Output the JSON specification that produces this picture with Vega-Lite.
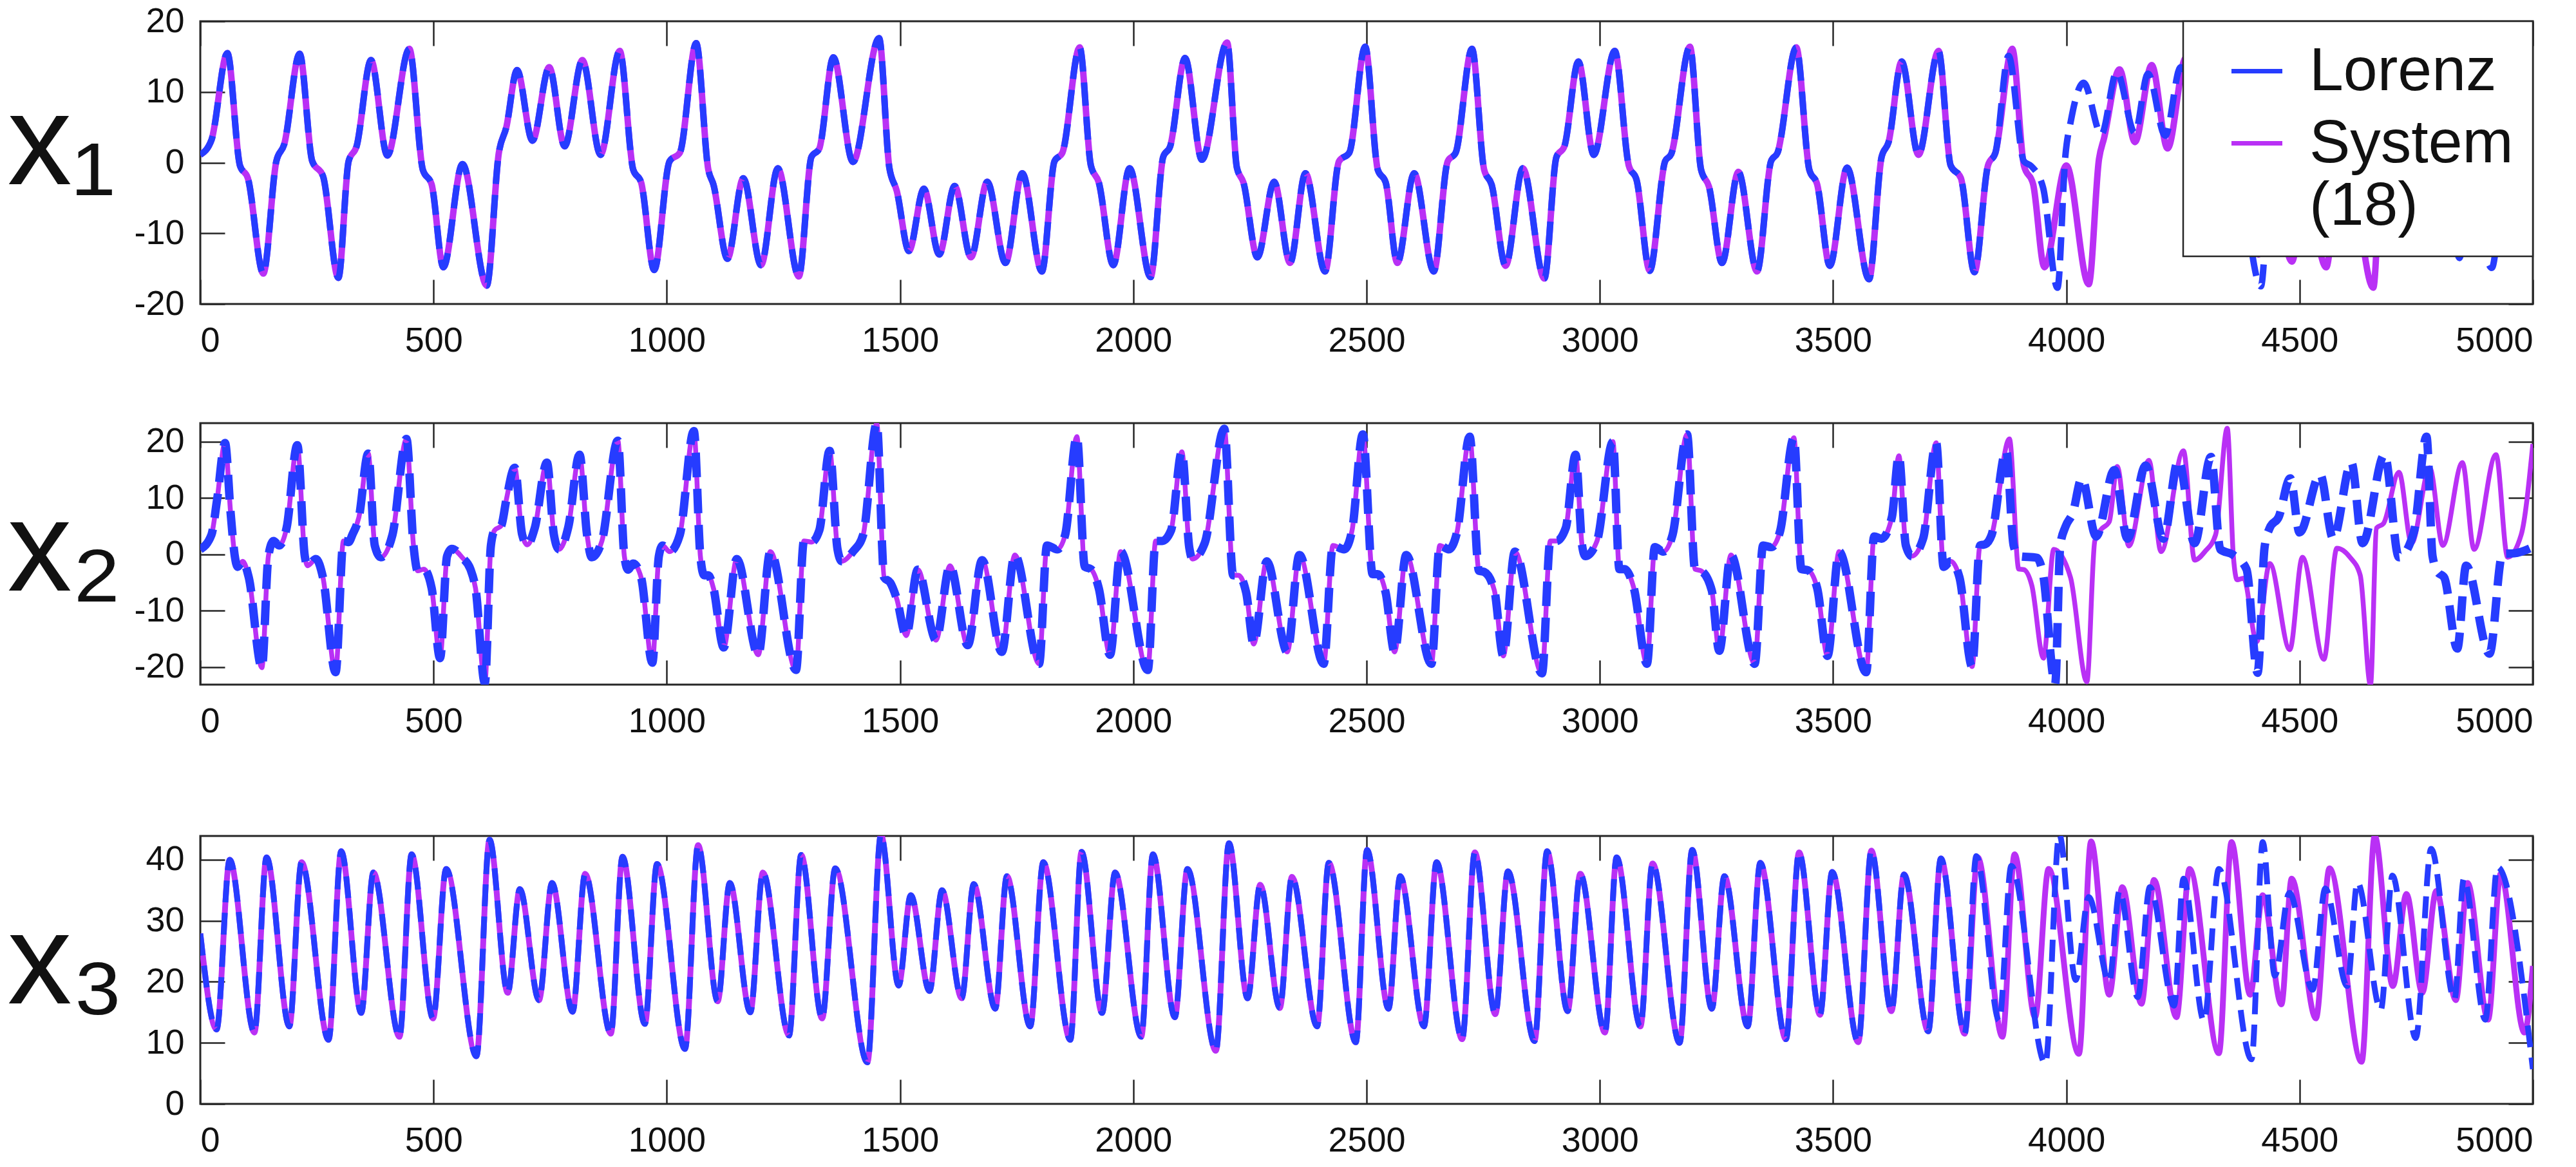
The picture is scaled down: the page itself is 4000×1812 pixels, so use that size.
{
  "$schema": "https://vega.github.io/schema/vega-lite/v6.json",
  "background": "white",
  "padding": {"left": 9, "top": 4, "right": 0, "bottom": 0},
  "config": {
    "view": {"stroke": "#262626", "strokeWidth": 3},
    "axis": {
      "domain": false, "grid": false,
      "tickColor": "#262626", "tickWidth": 2.5, "tickSize": -38,
      "labelFont": "Liberation Sans", "labelFontSize": 54, "labelColor": "#111111",
      "titleFont": "Liberation Sans", "titleColor": "#111111", "titleFontWeight": "normal"
    },
    "legend": {"strokeWidth": 2.5}
  },
  "datasets": {
    "d1": [
      {"t":0,"v":1.1,"g":"B"},{"t":24,"v":3.2,"g":"B"},{"t":58,"v":15.5,"g":"B"},{"t":85,"v":-0.4,"g":"B"},{"t":102,"v":-2.2,"g":"B"},{"t":135,"v":-15.7,"g":"B"},{"t":163,"v":0.2,"g":"B"},{"t":180,"v":2.6,"g":"B"},{"t":213,"v":15.4,"g":"B"},{"t":240,"v":0.2,"g":"B"},{"t":263,"v":-1.9,"g":"B"},{"t":296,"v":-16.3,"g":"B"},{"t":318,"v":0.2,"g":"B"},{"t":335,"v":2.3,"g":"B"},{"t":366,"v":14.5,"g":"B"},{"t":401,"v":1.0,"g":"B"},{"t":448,"v":16.1,"g":"B"},{"t":477,"v":-1.0,"g":"B"},{"t":496,"v":-3.1,"g":"B"},{"t":521,"v":-14.8,"g":"B"},{"t":562,"v":-0.2,"g":"B"},{"t":614,"v":-17.4,"g":"B"},{"t":640,"v":1.4,"g":"B"},{"t":656,"v":5,"g":"B"},{"t":679,"v":13.1,"g":"B"},{"t":712,"v":3.1,"g":"B"},{"t":748,"v":13.5,"g":"B"},{"t":781,"v":2.3,"g":"B"},{"t":819,"v":14.5,"g":"B"},{"t":858,"v":1.1,"g":"B"},{"t":899,"v":15.8,"g":"B"},{"t":928,"v":-1.0,"g":"B"},{"t":945,"v":-2.8,"g":"B"},{"t":973,"v":-15.2,"g":"B"},{"t":1006,"v":0.2,"g":"B"},{"t":1028,"v":1.4,"g":"B"},{"t":1063,"v":16.9,"g":"B"},{"t":1089,"v":-1.0,"g":"B"},{"t":1100,"v":-3.1,"g":"B"},{"t":1130,"v":-13.6,"g":"B"},{"t":1164,"v":-2.2,"g":"B"},{"t":1202,"v":-14.5,"g":"B"},{"t":1238,"v":-0.8,"g":"B"},{"t":1283,"v":-16.1,"g":"B"},{"t":1310,"v":0.8,"g":"B"},{"t":1327,"v":2.0,"g":"B"},{"t":1357,"v":14.9,"g":"B"},{"t":1399,"v":0.1,"g":"B"},{"t":1455,"v":17.6,"g":"B"},{"t":1477,"v":-0.7,"g":"B"},{"t":1493,"v":-4,"g":"B"},{"t":1519,"v":-12.5,"g":"B"},{"t":1551,"v":-3.7,"g":"B"},{"t":1584,"v":-13,"g":"B"},{"t":1617,"v":-3.3,"g":"B"},{"t":1652,"v":-13.4,"g":"B"},{"t":1687,"v":-2.7,"g":"B"},{"t":1726,"v":-14.2,"g":"B"},{"t":1762,"v":-1.5,"g":"B"},{"t":1804,"v":-15.4,"g":"B"},{"t":1831,"v":0.2,"g":"B"},{"t":1848,"v":1.4,"g":"B"},{"t":1885,"v":16.3,"g":"B"},{"t":1909,"v":-0.4,"g":"B"},{"t":1926,"v":-2.8,"g":"B"},{"t":1957,"v":-14.5,"g":"B"},{"t":1992,"v":-0.8,"g":"B"},{"t":2037,"v":-16.2,"g":"B"},{"t":2064,"v":0.8,"g":"B"},{"t":2079,"v":2.3,"g":"B"},{"t":2111,"v":14.8,"g":"B"},{"t":2147,"v":0.4,"g":"B"},{"t":2201,"v":17.0,"g":"B"},{"t":2222,"v":-0.7,"g":"B"},{"t":2236,"v":-2.8,"g":"B"},{"t":2266,"v":-13.4,"g":"B"},{"t":2302,"v":-2.7,"g":"B"},{"t":2336,"v":-14.2,"g":"B"},{"t":2369,"v":-1.5,"g":"B"},{"t":2411,"v":-15.4,"g":"B"},{"t":2441,"v":0.2,"g":"B"},{"t":2463,"v":1.4,"g":"B"},{"t":2497,"v":16.4,"g":"B"},{"t":2524,"v":-1.0,"g":"B"},{"t":2541,"v":-2.8,"g":"B"},{"t":2566,"v":-14.2,"g":"B"},{"t":2602,"v":-1.5,"g":"B"},{"t":2644,"v":-15.4,"g":"B"},{"t":2674,"v":0.2,"g":"B"},{"t":2691,"v":1.4,"g":"B"},{"t":2726,"v":16.1,"g":"B"},{"t":2752,"v":-1.0,"g":"B"},{"t":2768,"v":-3.1,"g":"B"},{"t":2798,"v":-14.6,"g":"B"},{"t":2835,"v":-0.8,"g":"B"},{"t":2881,"v":-16.4,"g":"B"},{"t":2907,"v":0.8,"g":"B"},{"t":2924,"v":2.3,"g":"B"},{"t":2954,"v":14.3,"g":"B"},{"t":2987,"v":1.1,"g":"B"},{"t":3032,"v":15.8,"g":"B"},{"t":3062,"v":-0.4,"g":"B"},{"t":3079,"v":-2.5,"g":"B"},{"t":3107,"v":-15.3,"g":"B"},{"t":3140,"v":0.2,"g":"B"},{"t":3153,"v":1.2,"g":"B"},{"t":3193,"v":16.4,"g":"B"},{"t":3217,"v":-1.0,"g":"B"},{"t":3234,"v":-3.4,"g":"B"},{"t":3262,"v":-14.2,"g":"B"},{"t":3297,"v":-1.3,"g":"B"},{"t":3337,"v":-15.4,"g":"B"},{"t":3367,"v":0.2,"g":"B"},{"t":3381,"v":1.4,"g":"B"},{"t":3421,"v":16.3,"g":"B"},{"t":3449,"v":-1.0,"g":"B"},{"t":3466,"v":-3.1,"g":"B"},{"t":3493,"v":-14.6,"g":"B"},{"t":3530,"v":-0.7,"g":"B"},{"t":3577,"v":-16.5,"g":"B"},{"t":3604,"v":0.8,"g":"B"},{"t":3619,"v":2.9,"g":"B"},{"t":3647,"v":14.3,"g":"B"},{"t":3683,"v":1.1,"g":"B"},{"t":3726,"v":15.8,"g":"B"},{"t":3752,"v":-0.4,"g":"B"},{"t":3774,"v":-2.2,"g":"B"},{"t":3803,"v":-15.5,"g":"B"},{"t":3832,"v":-0.4,"g":"B"},{"t":3848,"v":1.4,"g":"B"},
      {"t":3876,"v":15.1,"g":"L"},{"t":3909,"v":0.2,"g":"L"},{"t":3925,"v":-0.5,"g":"L"},{"t":3950,"v":-3.5,"g":"L"},{"t":3981,"v":-17.7,"g":"L"},{"t":3998,"v":1.0,"g":"L"},{"t":4010,"v":6,"g":"L"},{"t":4037,"v":11.3,"g":"L"},{"t":4075,"v":4.0,"g":"L"},{"t":4108,"v":12.8,"g":"L"},{"t":4147,"v":4.2,"g":"L"},{"t":4175,"v":12.6,"g":"L"},{"t":4212,"v":3.8,"g":"L"},{"t":4245,"v":13.5,"g":"L"},{"t":4280,"v":3.2,"g":"L"},{"t":4315,"v":14.5,"g":"L"},{"t":4345,"v":0,"g":"L"},{"t":4368,"v":-1.5,"g":"L"},{"t":4417,"v":-17.5,"g":"L"},{"t":4437,"v":0,"g":"L"},{"t":4448,"v":3,"g":"L"},{"t":4485,"v":11.0,"g":"L"},{"t":4505,"v":4.5,"g":"L"},{"t":4550,"v":12.0,"g":"L"},{"t":4577,"v":4.0,"g":"L"},{"t":4616,"v":13.2,"g":"L"},{"t":4640,"v":3.5,"g":"L"},{"t":4687,"v":14.2,"g":"L"},{"t":4718,"v":1.5,"g":"L"},{"t":4777,"v":16.0,"g":"L"},{"t":4800,"v":-1.0,"g":"L"},{"t":4815,"v":-3,"g":"L"},{"t":4843,"v":-13.5,"g":"L"},{"t":4862,"v":-3.0,"g":"L"},{"t":4912,"v":-14.9,"g":"L"},{"t":4940,"v":-1.5,"g":"L"},{"t":5000,"v":0.5,"g":"L"},
      {"t":3884,"v":16.1,"g":"S"},{"t":3909,"v":-0.4,"g":"S"},{"t":3929,"v":-3.1,"g":"S"},{"t":3953,"v":-14.8,"g":"S"},{"t":4000,"v":-0.4,"g":"S"},{"t":4048,"v":-17.2,"g":"S"},{"t":4070,"v":0.5,"g":"S"},{"t":4081,"v":3.5,"g":"S"},{"t":4114,"v":13.2,"g":"S"},{"t":4147,"v":2.9,"g":"S"},{"t":4183,"v":13.8,"g":"S"},{"t":4217,"v":2.0,"g":"S"},{"t":4256,"v":14.8,"g":"S"},{"t":4282,"v":0.8,"g":"S"},{"t":4310,"v":2.5,"g":"S"},{"t":4350,"v":17.5,"g":"S"},{"t":4368,"v":-1,"g":"S"},{"t":4382,"v":-3,"g":"S"},{"t":4412,"v":-13,"g":"S"},{"t":4440,"v":-3.5,"g":"S"},{"t":4484,"v":-14,"g":"S"},{"t":4510,"v":-2.5,"g":"S"},{"t":4557,"v":-14.8,"g":"S"},{"t":4585,"v":-0.5,"g":"S"},{"t":4610,"v":-2,"g":"S"},{"t":4658,"v":-17.7,"g":"S"},{"t":4675,"v":1,"g":"S"},{"t":4685,"v":4,"g":"S"},{"t":4718,"v":12,"g":"S"},{"t":4745,"v":3.5,"g":"S"},{"t":4784,"v":13,"g":"S"},{"t":4812,"v":3,"g":"S"},{"t":4854,"v":14,"g":"S"},{"t":4880,"v":2,"g":"S"},{"t":4926,"v":15,"g":"S"},{"t":4952,"v":1,"g":"S"},{"t":5000,"v":12.3,"g":"S"}
    ],
    "d2": [
      {"t":0,"v":0.9,"g":"B"},{"t":24,"v":3.5,"g":"B"},{"t":36,"v":9.7,"g":"B"},{"t":53,"v":19.8,"g":"B"},{"t":65,"v":7.4,"g":"B"},{"t":74,"v":-0.3,"g":"B"},{"t":80,"v":-2.2,"g":"B"},{"t":91,"v":-1.2,"g":"B"},{"t":104,"v":-4.1,"g":"B"},{"t":132,"v":-20.1,"g":"B"},{"t":146,"v":-0.3,"g":"B"},{"t":157,"v":2.4,"g":"B"},{"t":169,"v":1.6,"g":"B"},{"t":185,"v":4.7,"g":"B"},{"t":208,"v":19.4,"g":"B"},{"t":224,"v":-0.3,"g":"B"},{"t":230,"v":-2.0,"g":"B"},{"t":248,"v":-0.8,"g":"B"},{"t":263,"v":-4.1,"g":"B"},{"t":290,"v":-20.9,"g":"B"},{"t":307,"v":2.4,"g":"B"},{"t":318,"v":2.2,"g":"B"},{"t":326,"v":3.5,"g":"B"},{"t":340,"v":6.6,"g":"B"},{"t":360,"v":17.9,"g":"B"},{"t":374,"v":1.6,"g":"B"},{"t":387,"v":-0.5,"g":"B"},{"t":412,"v":3.5,"g":"B"},{"t":442,"v":20.5,"g":"B"},{"t":457,"v":1.6,"g":"B"},{"t":466,"v":-2.9,"g":"B"},{"t":479,"v":-2.6,"g":"B"},{"t":496,"v":-6.0,"g":"B"},{"t":514,"v":-18.4,"g":"B"},{"t":529,"v":-0.3,"g":"B"},{"t":539,"v":1.0,"g":"B"},{"t":562,"v":-0.6,"g":"B"},{"t":579,"v":-2.6,"g":"B"},{"t":590,"v":-6.0,"g":"B"},{"t":610,"v":-22.8,"g":"B"},{"t":623,"v":1.6,"g":"B"},{"t":631,"v":4.3,"g":"B"},{"t":645,"v":5.1,"g":"B"},{"t":656,"v":9.7,"g":"B"},{"t":674,"v":15.4,"g":"B"},{"t":690,"v":3.5,"g":"B"},{"t":701,"v":1.7,"g":"B"},{"t":717,"v":4.7,"g":"B"},{"t":743,"v":16.3,"g":"B"},{"t":758,"v":3.5,"g":"B"},{"t":769,"v":0.9,"g":"B"},{"t":789,"v":4.9,"g":"B"},{"t":813,"v":17.7,"g":"B"},{"t":829,"v":3.5,"g":"B"},{"t":839,"v":-0.5,"g":"B"},{"t":861,"v":2.4,"g":"B"},{"t":895,"v":20.2,"g":"B"},{"t":909,"v":-0.3,"g":"B"},{"t":917,"v":-2.7,"g":"B"},{"t":928,"v":-1.6,"g":"B"},{"t":945,"v":-4.1,"g":"B"},{"t":969,"v":-19.2,"g":"B"},{"t":983,"v":-0.3,"g":"B"},{"t":991,"v":1.6,"g":"B"},{"t":1006,"v":0.5,"g":"B"},{"t":1028,"v":3.5,"g":"B"},{"t":1058,"v":21.9,"g":"B"},{"t":1072,"v":-0.3,"g":"B"},{"t":1080,"v":-3.7,"g":"B"},{"t":1089,"v":-3.7,"g":"B"},{"t":1100,"v":-6.0,"g":"B"},{"t":1122,"v":-16.5,"g":"B"},{"t":1150,"v":-0.8,"g":"B"},{"t":1196,"v":-17.8,"g":"B"},{"t":1222,"v":0.5,"g":"B"},{"t":1277,"v":-20.5,"g":"B"},{"t":1294,"v":2.4,"g":"B"},{"t":1310,"v":2.2,"g":"B"},{"t":1327,"v":4.3,"g":"B"},{"t":1349,"v":18.4,"g":"B"},{"t":1366,"v":0.9,"g":"B"},{"t":1375,"v":-1.2,"g":"B"},{"t":1399,"v":0.5,"g":"B"},{"t":1421,"v":3.5,"g":"B"},{"t":1450,"v":23.2,"g":"B"},{"t":1466,"v":-4.1,"g":"B"},{"t":1479,"v":-5.0,"g":"B"},{"t":1493,"v":-7.9,"g":"B"},{"t":1513,"v":-14.4,"g":"B"},{"t":1538,"v":-2.7,"g":"B"},{"t":1577,"v":-15.2,"g":"B"},{"t":1607,"v":-2.0,"g":"B"},{"t":1645,"v":-16.1,"g":"B"},{"t":1676,"v":-1.0,"g":"B"},{"t":1718,"v":-17.3,"g":"B"},{"t":1746,"v":-0.1,"g":"B"},{"t":1798,"v":-19.4,"g":"B"},{"t":1815,"v":1.6,"g":"B"},{"t":1837,"v":0.9,"g":"B"},{"t":1854,"v":3.5,"g":"B"},{"t":1879,"v":20.9,"g":"B"},{"t":1896,"v":-2.2,"g":"B"},{"t":1909,"v":-2.6,"g":"B"},{"t":1926,"v":-6.0,"g":"B"},{"t":1950,"v":-17.8,"g":"B"},{"t":1973,"v":0.5,"g":"B"},{"t":2031,"v":-20.5,"g":"B"},{"t":2048,"v":2.4,"g":"B"},{"t":2062,"v":2.4,"g":"B"},{"t":2081,"v":4.3,"g":"B"},{"t":2104,"v":18.2,"g":"B"},{"t":2120,"v":1.2,"g":"B"},{"t":2127,"v":-0.8,"g":"B"},{"t":2153,"v":2.0,"g":"B"},{"t":2195,"v":22.3,"g":"B"},{"t":2214,"v":-3.7,"g":"B"},{"t":2225,"v":-3.7,"g":"B"},{"t":2242,"v":-6.8,"g":"B"},{"t":2258,"v":-15.9,"g":"B"},{"t":2286,"v":-1.2,"g":"B"},{"t":2330,"v":-17.3,"g":"B"},{"t":2356,"v":-0.1,"g":"B"},{"t":2408,"v":-19.4,"g":"B"},{"t":2428,"v":1.6,"g":"B"},{"t":2452,"v":0.9,"g":"B"},{"t":2469,"v":4.3,"g":"B"},{"t":2492,"v":21.3,"g":"B"},{"t":2513,"v":-3.5,"g":"B"},{"t":2524,"v":-3.5,"g":"B"},{"t":2541,"v":-6.8,"g":"B"},{"t":2560,"v":-17.3,"g":"B"},{"t":2585,"v":-0.1,"g":"B"},{"t":2639,"v":-19.4,"g":"B"},{"t":2657,"v":1.6,"g":"B"},{"t":2676,"v":0.9,"g":"B"},{"t":2694,"v":4.0,"g":"B"},{"t":2721,"v":20.9,"g":"B"},{"t":2741,"v":-2.9,"g":"B"},{"t":2752,"v":-3.1,"g":"B"},{"t":2774,"v":-6.4,"g":"B"},{"t":2793,"v":-18.0,"g":"B"},{"t":2818,"v":0.5,"g":"B"},{"t":2876,"v":-21.1,"g":"B"},{"t":2894,"v":2.4,"g":"B"},{"t":2907,"v":2.4,"g":"B"},{"t":2927,"v":4.7,"g":"B"},{"t":2948,"v":17.7,"g":"B"},{"t":2962,"v":1.6,"g":"B"},{"t":2969,"v":-0.3,"g":"B"},{"t":2994,"v":2.4,"g":"B"},{"t":3028,"v":20.0,"g":"B"},{"t":3042,"v":-2.6,"g":"B"},{"t":3053,"v":-2.6,"g":"B"},{"t":3073,"v":-6.0,"g":"B"},{"t":3101,"v":-19.4,"g":"B"},{"t":3118,"v":1.3,"g":"B"},{"t":3136,"v":0.5,"g":"B"},{"t":3156,"v":3.5,"g":"B"},{"t":3187,"v":21.3,"g":"B"},{"t":3204,"v":-2.6,"g":"B"},{"t":3217,"v":-2.9,"g":"B"},{"t":3240,"v":-6.4,"g":"B"},{"t":3256,"v":-17.1,"g":"B"},{"t":3281,"v":-0.1,"g":"B"},{"t":3332,"v":-19.4,"g":"B"},{"t":3350,"v":1.6,"g":"B"},{"t":3367,"v":1.3,"g":"B"},{"t":3386,"v":4.0,"g":"B"},{"t":3416,"v":20.7,"g":"B"},{"t":3432,"v":-2.6,"g":"B"},{"t":3446,"v":-2.8,"g":"B"},{"t":3466,"v":-6.0,"g":"B"},{"t":3488,"v":-18.0,"g":"B"},{"t":3513,"v":0.5,"g":"B"},{"t":3571,"v":-20.9,"g":"B"},{"t":3588,"v":3.2,"g":"B"},{"t":3604,"v":2.8,"g":"B"},{"t":3626,"v":6.6,"g":"B"},{"t":3641,"v":17.5,"g":"B"},{"t":3656,"v":1.6,"g":"B"},{"t":3669,"v":-0.3,"g":"B"},{"t":3693,"v":2.8,"g":"B"},{"t":3721,"v":19.8,"g":"B"},{"t":3737,"v":-2.2,"g":"B"},{"t":3752,"v":-1.2,"g":"B"},{"t":3771,"v":-4.1,"g":"B"},{"t":3798,"v":-19.9,"g":"B"},{"t":3815,"v":1.6,"g":"B"},{"t":3826,"v":1.8,"g":"B"},{"t":3840,"v":3.5,"g":"B"},
      {"t":3871,"v":18.4,"g":"L"},{"t":3887,"v":1.6,"g":"L"},{"t":3898,"v":-0.3,"g":"L"},{"t":3937,"v":-0.6,"g":"L"},{"t":3950,"v":-3.5,"g":"L"},{"t":3976,"v":-23.0,"g":"L"},{"t":3987,"v":1.6,"g":"L"},{"t":3998,"v":4.9,"g":"L"},{"t":4014,"v":7.4,"g":"L"},{"t":4033,"v":13.5,"g":"L"},{"t":4064,"v":3.2,"g":"L"},{"t":4103,"v":15.0,"g":"L"},{"t":4131,"v":2.8,"g":"L"},{"t":4170,"v":15.8,"g":"L"},{"t":4208,"v":2.8,"g":"L"},{"t":4240,"v":16.7,"g":"L"},{"t":4275,"v":2.0,"g":"L"},{"t":4310,"v":17.3,"g":"L"},{"t":4330,"v":0.9,"g":"L"},{"t":4358,"v":-0.1,"g":"L"},{"t":4386,"v":-2.6,"g":"L"},{"t":4410,"v":-21.0,"g":"L"},{"t":4425,"v":1.3,"g":"L"},{"t":4436,"v":4.7,"g":"L"},{"t":4455,"v":6.6,"g":"L"},{"t":4480,"v":13.5,"g":"L"},{"t":4500,"v":3.9,"g":"L"},{"t":4544,"v":14.2,"g":"L"},{"t":4572,"v":2.8,"g":"L"},{"t":4611,"v":16.3,"g":"L"},{"t":4635,"v":2.0,"g":"L"},{"t":4682,"v":17.7,"g":"L"},{"t":4713,"v":-0.5,"g":"L"},{"t":4745,"v":4,"g":"L"},{"t":4772,"v":20.9,"g":"L"},{"t":4785,"v":-0.3,"g":"L"},{"t":4796,"v":-3.1,"g":"L"},{"t":4810,"v":-4.1,"g":"L"},{"t":4838,"v":-16.7,"g":"L"},{"t":4857,"v":-2.0,"g":"L"},{"t":4907,"v":-17.6,"g":"L"},{"t":4935,"v":0.1,"g":"L"},{"t":4960,"v":0.2,"g":"L"},{"t":5000,"v":1.3,"g":"L"},
      {"t":3878,"v":20.5,"g":"S"},{"t":3898,"v":-2.6,"g":"S"},{"t":3909,"v":-2.7,"g":"S"},{"t":3926,"v":-5.5,"g":"S"},{"t":3951,"v":-18.4,"g":"S"},{"t":3973,"v":0.9,"g":"S"},{"t":4009,"v":-4.1,"g":"S"},{"t":4044,"v":-22.6,"g":"S"},{"t":4061,"v":2.4,"g":"S"},{"t":4073,"v":4.3,"g":"S"},{"t":4092,"v":5.8,"g":"S"},{"t":4109,"v":15.6,"g":"S"},{"t":4134,"v":1.5,"g":"S"},{"t":4177,"v":16.7,"g":"S"},{"t":4203,"v":0.5,"g":"S"},{"t":4251,"v":18.4,"g":"S"},{"t":4275,"v":-1.0,"g":"S"},{"t":4297,"v":0.5,"g":"S"},{"t":4320,"v":3.5,"g":"S"},{"t":4345,"v":22.4,"g":"S"},{"t":4358,"v":-0.3,"g":"S"},{"t":4366,"v":-4.5,"g":"S"},{"t":4380,"v":-4.2,"g":"S"},{"t":4408,"v":-15.5,"g":"S"},{"t":4436,"v":-1.6,"g":"S"},{"t":4479,"v":-16.9,"g":"S"},{"t":4506,"v":-0.5,"g":"S"},{"t":4552,"v":-18.6,"g":"S"},{"t":4580,"v":1.1,"g":"S"},{"t":4608,"v":-0.5,"g":"S"},{"t":4630,"v":-3.7,"g":"S"},{"t":4652,"v":-23.2,"g":"S"},{"t":4665,"v":4.7,"g":"S"},{"t":4680,"v":5.5,"g":"S"},{"t":4713,"v":14.6,"g":"S"},{"t":4740,"v":2.0,"g":"S"},{"t":4779,"v":15.4,"g":"S"},{"t":4807,"v":1.6,"g":"S"},{"t":4849,"v":16.3,"g":"S"},{"t":4874,"v":0.9,"g":"S"},{"t":4921,"v":17.7,"g":"S"},{"t":4946,"v":-0.5,"g":"S"},{"t":4975,"v":3.5,"g":"S"},{"t":5000,"v":19.6,"g":"S"}
    ],
    "d3": [
      {"t":0,"v":27.9,"g":"B"},{"t":35,"v":12.2,"g":"B"},{"t":63,"v":40.0,"g":"B"},{"t":116,"v":11.7,"g":"B"},{"t":142,"v":40.4,"g":"B"},{"t":191,"v":12.7,"g":"B"},{"t":217,"v":39.6,"g":"B"},{"t":275,"v":10.5,"g":"B"},{"t":302,"v":41.4,"g":"B"},{"t":345,"v":14.9,"g":"B"},{"t":371,"v":37.9,"g":"B"},{"t":427,"v":11.0,"g":"B"},{"t":453,"v":40.9,"g":"B"},{"t":499,"v":14.0,"g":"B"},{"t":527,"v":38.5,"g":"B"},{"t":592,"v":7.8,"g":"B"},{"t":620,"v":43.3,"g":"B"},{"t":659,"v":18.2,"g":"B"},{"t":685,"v":35.2,"g":"B"},{"t":726,"v":17.0,"g":"B"},{"t":754,"v":36.2,"g":"B"},{"t":798,"v":15.1,"g":"B"},{"t":825,"v":37.7,"g":"B"},{"t":880,"v":11.5,"g":"B"},{"t":905,"v":40.5,"g":"B"},{"t":953,"v":13.1,"g":"B"},{"t":979,"v":39.3,"g":"B"},{"t":1039,"v":9.0,"g":"B"},{"t":1067,"v":42.4,"g":"B"},{"t":1109,"v":16.8,"g":"B"},{"t":1135,"v":36.2,"g":"B"},{"t":1179,"v":15.0,"g":"B"},{"t":1206,"v":37.9,"g":"B"},{"t":1262,"v":11.2,"g":"B"},{"t":1288,"v":40.8,"g":"B"},{"t":1333,"v":14.0,"g":"B"},{"t":1361,"v":38.6,"g":"B"},{"t":1430,"v":6.8,"g":"B"},{"t":1459,"v":44.1,"g":"B"},{"t":1497,"v":19.4,"g":"B"},{"t":1523,"v":34.2,"g":"B"},{"t":1563,"v":18.5,"g":"B"},{"t":1590,"v":35.0,"g":"B"},{"t":1632,"v":17.3,"g":"B"},{"t":1658,"v":36.0,"g":"B"},{"t":1704,"v":15.6,"g":"B"},{"t":1729,"v":37.3,"g":"B"},{"t":1779,"v":12.7,"g":"B"},{"t":1807,"v":39.6,"g":"B"},{"t":1865,"v":10.5,"g":"B"},{"t":1889,"v":41.3,"g":"B"},{"t":1933,"v":14.9,"g":"B"},{"t":1961,"v":37.9,"g":"B"},{"t":2017,"v":11.0,"g":"B"},{"t":2042,"v":40.9,"g":"B"},{"t":2089,"v":14.2,"g":"B"},{"t":2116,"v":38.5,"g":"B"},{"t":2177,"v":8.7,"g":"B"},{"t":2205,"v":42.7,"g":"B"},{"t":2245,"v":17.3,"g":"B"},{"t":2272,"v":35.9,"g":"B"},{"t":2314,"v":15.7,"g":"B"},{"t":2340,"v":37.2,"g":"B"},{"t":2394,"v":12.7,"g":"B"},{"t":2419,"v":39.5,"g":"B"},{"t":2477,"v":10.1,"g":"B"},{"t":2501,"v":41.6,"g":"B"},{"t":2547,"v":15.6,"g":"B"},{"t":2572,"v":37.3,"g":"B"},{"t":2623,"v":12.7,"g":"B"},{"t":2650,"v":39.6,"g":"B"},{"t":2705,"v":10.6,"g":"B"},{"t":2732,"v":41.2,"g":"B"},{"t":2776,"v":14.7,"g":"B"},{"t":2803,"v":38.1,"g":"B"},{"t":2860,"v":10.3,"g":"B"},{"t":2887,"v":41.4,"g":"B"},{"t":2931,"v":15.2,"g":"B"},{"t":2958,"v":37.7,"g":"B"},{"t":3011,"v":11.7,"g":"B"},{"t":3036,"v":40.4,"g":"B"},{"t":3087,"v":12.7,"g":"B"},{"t":3113,"v":39.4,"g":"B"},{"t":3171,"v":10.0,"g":"B"},{"t":3198,"v":41.6,"g":"B"},{"t":3240,"v":15.6,"g":"B"},{"t":3267,"v":37.3,"g":"B"},{"t":3317,"v":12.7,"g":"B"},{"t":3344,"v":39.5,"g":"B"},{"t":3399,"v":10.6,"g":"B"},{"t":3427,"v":41.2,"g":"B"},{"t":3472,"v":14.6,"g":"B"},{"t":3498,"v":38.0,"g":"B"},{"t":3554,"v":10.1,"g":"B"},{"t":3582,"v":41.5,"g":"B"},{"t":3625,"v":15.2,"g":"B"},{"t":3652,"v":37.6,"g":"B"},{"t":3704,"v":11.9,"g":"B"},{"t":3731,"v":40.2,"g":"B"},{"t":3782,"v":11.5,"g":"B"},
      {"t":3807,"v":40.6,"g":"L"},{"t":3856,"v":13.6,"g":"L"},{"t":3882,"v":39.0,"g":"L"},{"t":3955,"v":6.6,"g":"L"},{"t":3985,"v":44.1,"g":"L"},{"t":4020,"v":20.3,"g":"L"},{"t":4048,"v":33.9,"g":"L"},{"t":4092,"v":20.0,"g":"L"},{"t":4114,"v":34.9,"g":"L"},{"t":4153,"v":17.5,"g":"L"},{"t":4179,"v":35.5,"g":"L"},{"t":4231,"v":16.1,"g":"L"},{"t":4251,"v":36.9,"g":"L"},{"t":4295,"v":13.6,"g":"L"},{"t":4327,"v":38.5,"g":"L"},{"t":4397,"v":7.3,"g":"L"},{"t":4421,"v":42.9,"g":"L"},{"t":4447,"v":21.0,"g":"L"},{"t":4478,"v":34.6,"g":"L"},{"t":4528,"v":18.7,"g":"L"},{"t":4555,"v":35.3,"g":"L"},{"t":4602,"v":19.3,"g":"L"},{"t":4624,"v":36.3,"g":"L"},{"t":4674,"v":15.4,"g":"L"},{"t":4699,"v":37.4,"g":"L"},{"t":4749,"v":10.8,"g":"L"},{"t":4782,"v":41.8,"g":"L"},{"t":4832,"v":17.1,"g":"L"},{"t":4852,"v":36.9,"g":"L"},{"t":4898,"v":13.8,"g":"L"},{"t":4924,"v":38.8,"g":"L"},{"t":5000,"v":5.7,"g":"L"},
      {"t":3810,"v":40.4,"g":"S"},{"t":3863,"v":11.0,"g":"S"},{"t":3889,"v":40.9,"g":"S"},{"t":3933,"v":14.2,"g":"S"},{"t":3962,"v":38.5,"g":"S"},{"t":4027,"v":8.2,"g":"S"},{"t":4053,"v":43.0,"g":"S"},{"t":4092,"v":17.9,"g":"S"},{"t":4120,"v":35.5,"g":"S"},{"t":4161,"v":16.4,"g":"S"},{"t":4188,"v":36.7,"g":"S"},{"t":4236,"v":14.2,"g":"S"},{"t":4264,"v":38.5,"g":"S"},{"t":4327,"v":8.3,"g":"S"},{"t":4354,"v":42.9,"g":"S"},{"t":4394,"v":17.9,"g":"S"},{"t":4421,"v":34.2,"g":"S"},{"t":4461,"v":16.3,"g":"S"},{"t":4483,"v":36.9,"g":"S"},{"t":4535,"v":14.0,"g":"S"},{"t":4564,"v":38.6,"g":"S"},{"t":4633,"v":6.9,"g":"S"},{"t":4661,"v":43.9,"g":"S"},{"t":4700,"v":19.3,"g":"S"},{"t":4729,"v":34.4,"g":"S"},{"t":4763,"v":18.2,"g":"S"},{"t":4793,"v":34.9,"g":"S"},{"t":4835,"v":17.0,"g":"S"},{"t":4860,"v":36.2,"g":"S"},{"t":4904,"v":13.8,"g":"S"},{"t":4931,"v":37.7,"g":"S"},{"t":4982,"v":11.7,"g":"S"},{"t":5000,"v":22.6,"g":"S"}
    ]
  },
  "vconcat": [
    {
      "vconcat": [
        {
          "width": 3622, "height": 439,
          "data": {"name": "d1"},
          "layer": [
            {
              "transform": [{"filter": "datum.g != 'L'"}],
              "mark": {"type": "line", "interpolate": "monotone", "strokeWidth": 10, "clip": true},
              "encoding": {
                "x": {"field": "t", "type": "quantitative", "scale": {"domain": [0, 5000], "nice": false, "zero": false},
                      "axis": {"orient": "top", "values": [0,500,1000,1500,2000,2500,3000,3500,4000,4500,5000], "labels": false, "title": null}},
                "y": {"field": "v", "type": "quantitative", "scale": {"domain": [-20, 20], "nice": false, "zero": false},
                      "axis": {"orient": "right", "values": [-20,-10,0,10,20], "labels": false, "title": null}},
                "color": {"datum": "System (18)", "type": "nominal",
                  "scale": {"domain": ["Lorenz", "System (18)"], "range": ["#263cff", "#b930f5"]},
                  "legend": {
                    "orient": "top-right", "offset": 0, "title": null,
                    "fillColor": "white", "strokeColor": "#262626", "padding": 30,
                    "symbolType": "stroke", "symbolSize": 6241, "symbolStrokeWidth": 7, "symbolOffset": 37,
                    "labelOffset": 34, "labelFontSize": 95, "labelFont": "Liberation Sans", "labelColor": "#111111",
                    "labelLimit": 2000, "rowPadding": 16, "labelBaseline": "middle",
                    "labelExpr": "datum.label == 'System (18)' ? ['System', '(18)'] : datum.label"
                  }}
              }
            },
            {
              "transform": [{"filter": "datum.g != 'S'"}],
              "mark": {"type": "line", "interpolate": "monotone", "strokeWidth": 10, "strokeDash": [36, 17], "clip": true},
              "encoding": {
                "x": {"field": "t", "type": "quantitative",
                      "axis": {"orient": "bottom", "values": [0,500,1000,1500,2000,2500,3000,3500,4000,4500,5000], "format": "d", "labelPadding": 68, "title": null}},
                "y": {"field": "v", "type": "quantitative",
                      "axis": {"orient": "left", "values": [-20,-10,0,10,20], "labelPadding": 63,
                               "labelExpr": "datum.value < 0 ? '-' + (-datum.value) : '' + datum.value",
                               "title": "x₁", "titleAngle": 0, "titleFontSize": 200, "titleX": -300, "titleY": 192,
                               "titleAlign": "left", "titleBaseline": "middle"}},
                "color": {"datum": "Lorenz", "type": "nominal"}
              }
            }
          ],
          "resolve": {"axis": {"x": "independent", "y": "independent"}}
        },
        {
          "width": 3622, "height": 406,
          "data": {"name": "d2"},
          "layer": [
            {
              "transform": [{"filter": "datum.g != 'L'"}],
              "mark": {"type": "line", "interpolate": "monotone", "strokeWidth": 7.5, "color": "#b930f5", "clip": true},
              "encoding": {
                "x": {"field": "t", "type": "quantitative", "scale": {"domain": [0, 5000], "nice": false, "zero": false},
                      "axis": {"orient": "top", "values": [0,500,1000,1500,2000,2500,3000,3500,4000,4500,5000], "labels": false, "title": null}},
                "y": {"field": "v", "type": "quantitative", "scale": {"domain": [-23.1, 23.3], "nice": false, "zero": false},
                      "axis": {"orient": "right", "values": [-20,-10,0,10,20], "labels": false, "title": null}}
              }
            },
            {
              "transform": [{"filter": "datum.g != 'S'"}],
              "mark": {"type": "line", "interpolate": "monotone", "strokeWidth": 13, "strokeDash": [38, 18], "color": "#263cff", "clip": true},
              "encoding": {
                "x": {"field": "t", "type": "quantitative",
                      "axis": {"orient": "bottom", "values": [0,500,1000,1500,2000,2500,3000,3500,4000,4500,5000], "format": "d", "labelPadding": 68, "title": null}},
                "y": {"field": "v", "type": "quantitative",
                      "axis": {"orient": "left", "values": [-20,-10,0,10,20], "labelPadding": 63,
                               "labelExpr": "datum.value < 0 ? '-' + (-datum.value) : '' + datum.value",
                               "title": "x₂", "titleAngle": 0, "titleFontSize": 200, "titleX": -300, "titleY": 199,
                               "titleAlign": "left", "titleBaseline": "middle"}}
              }
            }
          ],
          "resolve": {"axis": {"x": "independent", "y": "independent"}}
        }
      ],
      "spacing": 96,
      "resolve": {"scale": {"x": "independent", "y": "independent", "color": "independent"}, "legend": {"color": "independent"}}
    },
    {
      "width": 3622, "height": 416,
      "data": {"name": "d3"},
      "layer": [
        {
          "transform": [{"filter": "datum.g != 'L'"}],
          "mark": {"type": "line", "interpolate": "monotone", "strokeWidth": 9, "color": "#b930f5", "clip": true},
          "encoding": {
            "x": {"field": "t", "type": "quantitative", "scale": {"domain": [0, 5000], "nice": false, "zero": false},
                  "axis": {"orient": "top", "values": [0,500,1000,1500,2000,2500,3000,3500,4000,4500,5000], "labels": false, "title": null}},
            "y": {"field": "v", "type": "quantitative", "scale": {"domain": [0, 43.9], "nice": false, "zero": false},
                  "axis": {"orient": "right", "values": [0,10,20,30,40], "labels": false, "title": null}}
          }
        },
        {
          "transform": [{"filter": "datum.g != 'S'"}],
          "mark": {"type": "line", "interpolate": "monotone", "strokeWidth": 9, "strokeDash": [34, 16], "color": "#263cff", "clip": true},
          "encoding": {
            "x": {"field": "t", "type": "quantitative",
                  "axis": {"orient": "bottom", "values": [0,500,1000,1500,2000,2500,3000,3500,4000,4500,5000], "format": "d", "labelPadding": 68, "title": null}},
            "y": {"field": "v", "type": "quantitative",
                  "axis": {"orient": "left", "values": [0,10,20,30,40], "labelPadding": 63,
                           "labelExpr": "datum.value < 0 ? '-' + (-datum.value) : '' + datum.value",
                           "title": "x₃", "titleAngle": 0, "titleFontSize": 200, "titleX": -300, "titleY": 199,
                           "titleAlign": "left", "titleBaseline": "middle"}}
          }
        }
      ],
      "resolve": {"axis": {"x": "independent", "y": "independent"}}
    }
  ],
  "spacing": 146,
  "resolve": {"scale": {"x": "independent", "y": "independent", "color": "independent"}, "legend": {"color": "independent"}}
}
